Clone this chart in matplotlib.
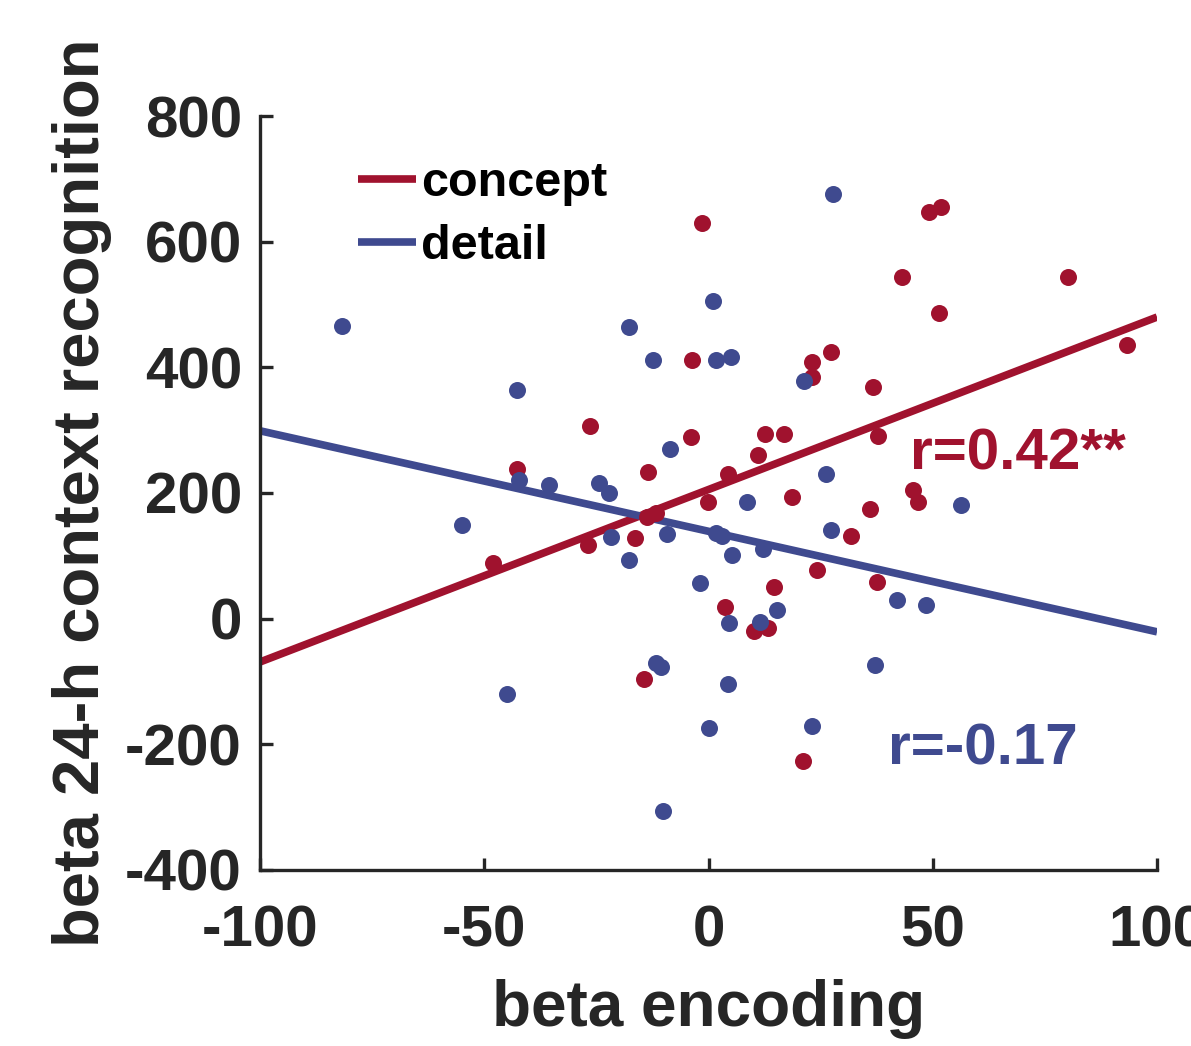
import matplotlib
matplotlib.use("Agg")
import matplotlib.pyplot as plt
import numpy as np

# scatter data (beta encoding, beta 24-h context recognition)
concept_x = [-1.4, -3.7, -26.5, -4.0, -42.8, -13.5, 49.1, 51.9, 43.1, 80.2,
             51.3, 27.2, 23.0, 23.0, 36.6, 12.6, 16.8, 37.8, 11.0, 4.4,
             -0.2, 18.7, 35.9, 45.6, 46.7, 31.8, 24.2, 37.5, 14.7, 3.6,
             10.1, 13.2, 21.0, -48.0, -26.9, -16.3, -13.7, -11.8, -14.4, 93.2]
concept_y = [630, 412, 307, 289, 238, 234, 648, 655, 543, 543,
             486, 424, 409, 384, 368, 294, 294, 291, 261, 230,
             186, 193, 175, 204, 186, 132, 78, 59, 50, 18,
             -19, -15, -226, 88, 118, 129, 162, 168, -96, 436]

detail_x = [-81.8, -17.8, -12.3, 1.1, 1.6, 4.9, -42.7, -8.5, -42.3, -35.5,
            -24.4, -22.2, 27.8, 21.3, 26.2, 8.6, 56.2, 27.2, 1.6, 3.1,
            12.2, 5.3, -1.8, 42.1, 48.4, 15.2, 4.5, 11.4, 37.2, 4.3,
            0.1, 23.1, -54.9, -21.7, -17.8, -9.2, -11.8, -10.7, -45.0, -10.1]
detail_y = [465, 464, 412, 505, 412, 416, 364, 270, 220, 213,
            216, 200, 676, 378, 230, 185, 181, 141, 137, 132,
            111, 101, 56, 30, 21, 14, -7, -6, -74, -104,
            -174, -171, 149, 130, 93, 134, -70, -77, -120, -306]

# regression lines (slope, intercept) as drawn in the figure
concept_fit = (2.745, 205.5)
detail_fit = (-1.60, 139.0)
concept_r = "r=0.42**"
detail_r = "r=-0.17"

red = "#A0122E"
blue = "#3F4A8F"
dark = "#262626"

plt.rcParams['font.family'] = ['Liberation Sans', 'DejaVu Sans']
plt.rcParams['font.weight'] = 'bold'
plt.rcParams['axes.unicode_minus'] = False

fig = plt.figure(figsize=(11.91, 10.46), dpi=100)
ax = fig.add_axes([0.2183, 0.1683, 0.7532, 0.7208])

xs = np.array([-100, 100])
ax.plot(xs, concept_fit[0] * xs + concept_fit[1], color=red, lw=5.5,
        label="concept", solid_capstyle='butt')
ax.plot(xs, detail_fit[0] * xs + detail_fit[1], color=blue, lw=5.5,
        label="detail", solid_capstyle='butt')
ax.scatter(concept_x, concept_y, s=150, color=red, linewidths=0, zorder=3)
ax.scatter(detail_x, detail_y, s=150, color=blue, linewidths=0, zorder=3)

ax.text(45, 262, concept_r, color=red, fontsize=42, va='center', ha='left')
ax.text(40, -208, detail_r, color=blue, fontsize=42, va='center', ha='left')

ax.set_xlim(-100, 100)
ax.set_ylim(-400, 800)
ax.set_xticks([-100, -50, 0, 50, 100])
ax.set_yticks([-400, -200, 0, 200, 400, 600, 800])
ax.tick_params(direction='in', length=9, width=2.4, colors=dark, labelsize=42)
ax.tick_params(axis='x', pad=25)
ax.tick_params(axis='y', pad=13)
for lab in ax.get_xticklabels() + ax.get_yticklabels():
    lab.set_fontweight('bold')
for side in ['top', 'right']:
    ax.spines[side].set_visible(False)
for side in ['left', 'bottom']:
    ax.spines[side].set_linewidth(2.4)
    ax.spines[side].set_color(dark)

ax.set_xlabel("beta encoding", fontsize=46, fontweight='bold', color=dark)
ax.set_ylabel("beta 24-h context recognition", fontsize=47, fontweight='bold',
              color=dark)
ax.xaxis.set_label_coords(0.5, -0.145)
ax.yaxis.set_label_coords(-0.165, 0.5)

leg = ax.legend(loc='upper left', bbox_to_anchor=(0.109, 0.94), frameon=False,
                fontsize=35, handlelength=1.2, handletextpad=0.1,
                labelspacing=0.37, borderpad=0, borderaxespad=0)
for t in leg.get_texts():
    t.set_fontweight('bold')

fig.savefig("out.png", dpi=100)
